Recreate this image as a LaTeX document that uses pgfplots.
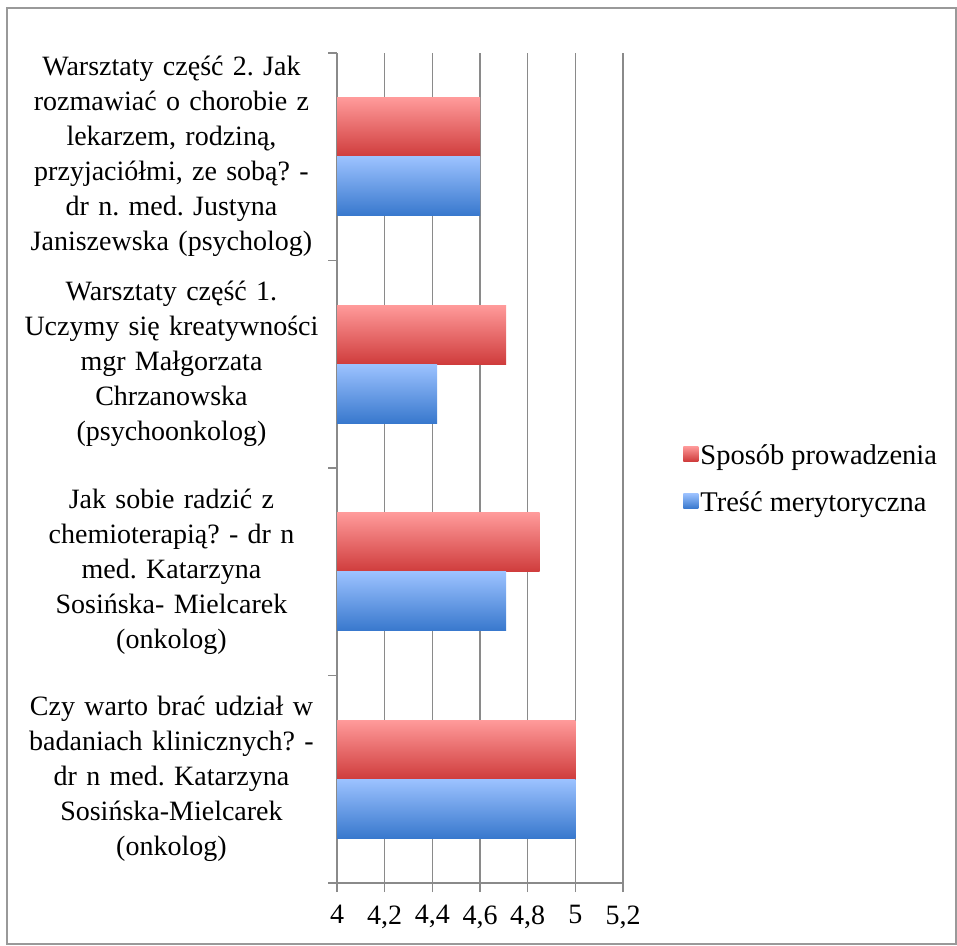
\documentclass[border=0pt]{standalone}
\usepackage{pgfplots}
\pgfplotsset{compat=1.18}
\usepackage{fontspec}
\setmainfont{Liberation Serif}
\frenchspacing
\definecolor{gridgray}{HTML}{8A8A8A}
\definecolor{redtop}{HTML}{FF9A9A}
\definecolor{redbot}{HTML}{CF3C3C}
\definecolor{bluetop}{HTML}{9CC2FF}
\definecolor{bluebot}{HTML}{3878CD}
% one \addplot per bar so that every bar gets its own gradient
\pgfplotsset{
    redbar/.style={bar shift=0.142, draw=none, top color=redtop, bottom color=redbot},
    bluebar/.style={bar shift=-0.142, draw=none, top color=bluetop, bottom color=bluebot},
}
\begin{document}
\begin{tikzpicture}
\useasboundingbox (0pt,0pt) rectangle (957pt,-945pt);
\draw[gray!80, line width=1.5pt] (7pt,-8pt) rectangle (956pt,-944pt);
\begin{axis}[
    at={(337pt,-883pt)}, anchor=south west,
    scale only axis,
    width=286pt, height=830pt,
    xbar,
    xmin=4, xmax=5.2,
    ymin=-0.5, ymax=3.5,
    axis x line*=bottom,
    axis y line*=left,
    axis line style={gridgray, line width=1.5pt},
    xtick={4,4.2,4.4,4.6,4.8,5,5.2},
    /pgf/number format/.cd, use comma, fixed, assume math mode=true,
    /pgfplots/.cd,
    xmajorgrids=true,
    grid style={gridgray, line width=1.5pt},
    tick align=outside,
    major tick length=9pt,
    tick style={gridgray, line width=1.5pt},
    ytick={-0.5,0.5,1.5,2.5,3.5},
    yticklabels={},
    extra y ticks={0,1,2,3},
    extra y tick labels={
        {Czy warto brać udział w\\badaniach klinicznych? -\\dr n med. Katarzyna\\Sosińska-Mielcarek\\(onkolog)},
        {Jak sobie radzić z\\chemioterapią? - dr n\\med. Katarzyna\\Sosińska- Mielcarek\\(onkolog)},
        {Warsztaty część 1.\\Uczymy się kreatywności\\mgr Małgorzata\\Chrzanowska\\(psychoonkolog)},
        {Warsztaty część 2. Jak\\rozmawiać o chorobie z\\lekarzem, rodziną,\\przyjaciółmi, ze sobą? -\\dr n. med. Justyna\\Janiszewska (psycholog)}},
    extra y tick style={tick style={draw=none}},
    yticklabel style={text width=310pt, align=center, xshift=2pt,
        font=\fontsize{28}{35}\selectfont},
    xticklabel style={font=\fontsize{28}{32}\selectfont, yshift=-10pt},
    bar width=0.284,
    legend style={at={(1.2,0.487)}, anchor=west, draw=none, fill=none,
        font=\fontsize{28.5}{32}\selectfont, row sep=22pt,
        /tikz/every even column/.append style={column sep=0pt}},
    legend cell align=left,
    legend image code/.code={\path[#1, draw=none] (0pt,-6pt) rectangle (15pt,9pt);},
]
\addplot[redbar]  coordinates {(5,0)};
\addlegendentry{Sposób prowadzenia}
\addplot[bluebar] coordinates {(5,0)};
\addlegendentry{Treść merytoryczna}
\addplot[redbar, forget plot]  coordinates {(4.85,1)};
\addplot[bluebar, forget plot] coordinates {(4.71,1)};
\addplot[redbar, forget plot]  coordinates {(4.71,2)};
\addplot[bluebar, forget plot] coordinates {(4.42,2)};
\addplot[redbar, forget plot]  coordinates {(4.6,3)};
\addplot[bluebar, forget plot] coordinates {(4.6,3)};
\end{axis}
\end{tikzpicture}
\end{document}
